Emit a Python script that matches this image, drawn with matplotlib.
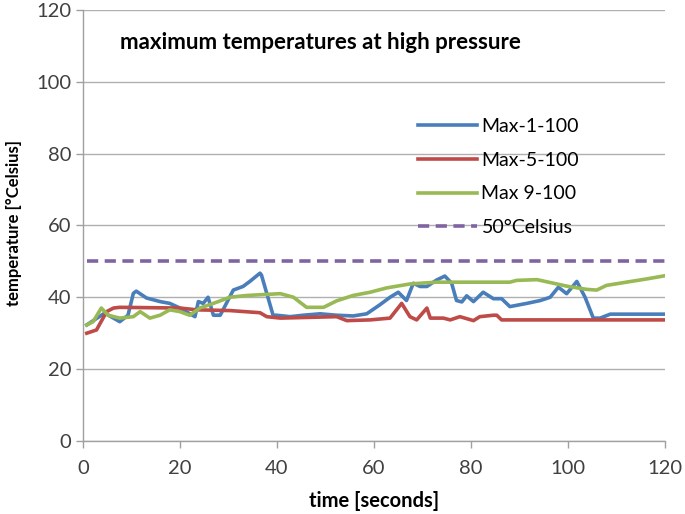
import matplotlib
matplotlib.use("Agg")
import matplotlib.pyplot as plt

# Max-1-100 (blue)
t_max1 = [0.8, 4.5, 7.6, 9.3, 10.4, 11.0, 13.1, 15.9, 17.9, 20.0, 23.1, 23.8, 24.8, 25.8, 26.9,
          28.3, 31.0, 33.0, 34.4, 36.5, 36.8, 39.2, 39.9, 42.7, 45.4, 48.9, 52.3, 55.7, 58.5,
          61.2, 63.3, 65.0, 66.7, 68.1, 69.5, 70.9, 72.9, 74.6, 76.0, 77.0, 78.1, 79.1, 80.5,
          82.5, 84.6, 86.3, 88.0, 91.5, 94.3, 96.3, 98.0, 99.7, 101.8, 103.5, 105.2, 106.6,
          108.7, 120.0]
v_max1 = [32.3, 35.6, 33.2, 35.0, 41.1, 41.7, 39.8, 38.8, 38.3, 37.0, 34.6, 38.8, 38.3, 40.0, 35.0,
          35.0, 42.0, 43.0, 44.4, 46.7, 46.2, 35.0, 35.0, 34.6, 35.0, 35.4, 35.0, 34.8, 35.4,
          37.9, 40.0, 41.4, 39.1, 43.9, 43.0, 43.0, 44.8, 45.9, 43.9, 39.1, 38.7, 40.4, 38.8,
          41.4, 39.6, 39.6, 37.4, 38.3, 39.1, 40.0, 42.8, 41.0, 44.4, 40.0, 34.2, 34.2,
          35.3, 35.3]

# Max-5-100 (red)
t_max5 = [0.8, 2.8, 4.9, 6.3, 7.6, 20.0, 23.5, 30.3, 36.5, 37.9, 40.7, 52.3, 54.4, 59.2, 63.3,
          65.7, 67.4, 68.8, 70.9, 71.6, 74.3, 75.7, 77.7, 80.5, 81.8, 84.6, 85.3, 86.3, 120.0]
v_max5 = [30.0, 30.9, 36.0, 37.0, 37.2, 37.0, 36.5, 36.3, 35.7, 34.6, 34.2, 34.6, 33.5, 33.7, 34.2,
          38.3, 34.6, 33.7, 37.0, 34.2, 34.2, 33.7, 34.6, 33.5, 34.6, 35.0, 35.0, 33.7, 33.7]

# Max 9-100 (green)
t_max9 = [0.8, 2.1, 3.8, 5.2, 7.6, 10.4, 11.8, 13.8, 15.9, 17.9, 20.0, 22.0, 24.1, 26.9, 30.3,
          33.8, 40.7, 43.4, 46.1, 49.6, 52.3, 55.7, 59.2, 62.6, 67.4, 72.9, 88.0, 89.4, 93.6,
          97.0, 99.7, 103.8, 105.9, 107.9, 112.0, 116.2, 120.0]
v_max9 = [32.3, 33.2, 37.0, 35.0, 34.2, 34.6, 36.0, 34.2, 35.0, 36.5, 36.0, 35.0, 37.0, 38.3, 40.0,
          40.5, 41.0, 40.0, 37.2, 37.2, 39.0, 40.5, 41.4, 42.6, 43.7, 44.2, 44.2, 44.7, 44.9,
          43.9, 43.1, 42.2, 42.0, 43.3, 44.2, 45.1, 46.0]

# 50 degree reference
t_ref = [0.8, 120.0]
v_ref = [50, 50]

labels = ["Max-1-100", "Max-5-100", "Max 9-100", "50\u00b0Celsius"]
colors = ["#4a7ebb", "#be4b48", "#98b954", "#8064a2"]

plt.rcParams['font.family'] = ['Lato', 'DejaVu Sans']

fig = plt.figure(figsize=(6.85, 5.14), dpi=100)
ax = fig.add_axes([0.121, 0.142, 0.850, 0.839])

lw = 2.6
ax.plot(t_max1, v_max1, color=colors[0], lw=lw, label=labels[0])
ax.plot(t_max5, v_max5, color=colors[1], lw=lw, label=labels[1])
ax.plot(t_max9, v_max9, color=colors[2], lw=lw, label=labels[2])
ax.plot(t_ref, v_ref, color=colors[3], lw=lw, ls=(0, (3.1, 1.8)), label=labels[3])

ax.set_xlim(0, 120)
ax.set_ylim(0, 120)
ax.set_xticks(range(0, 121, 20))
ax.set_yticks(range(0, 121, 20))
ax.yaxis.grid(True, color="#b0b0b0", lw=1)
ax.set_axisbelow(True)
for s in ["top", "right"]:
    ax.spines[s].set_visible(False)
for s in ["left", "bottom"]:
    ax.spines[s].set_color("#a0a0a0")
    ax.spines[s].set_linewidth(1)
ax.tick_params(colors="#a0a0a0", labelcolor="#404040", labelsize=14.5, length=5, width=1)
ax.tick_params(axis="x", pad=9)

ax.set_xlabel("time [seconds]", fontsize=14.5, fontweight="bold", labelpad=10)
ax.set_ylabel("temperature [\u00b0Celsius]", fontsize=12, fontweight="bold")
ax.yaxis.set_label_coords(-0.104, 0.506)

ax.text(0.064, 0.923, "maximum temperatures at high pressure", transform=ax.transAxes,
        fontsize=16, fontweight="bold", va="center", ha="left")

ax.legend(loc="upper left", bbox_to_anchor=(0.546, 0.789), frameon=False, fontsize=14,
          handlelength=3.0, labelspacing=0.85, handletextpad=0.25)

fig.savefig("out.png", dpi=100)
